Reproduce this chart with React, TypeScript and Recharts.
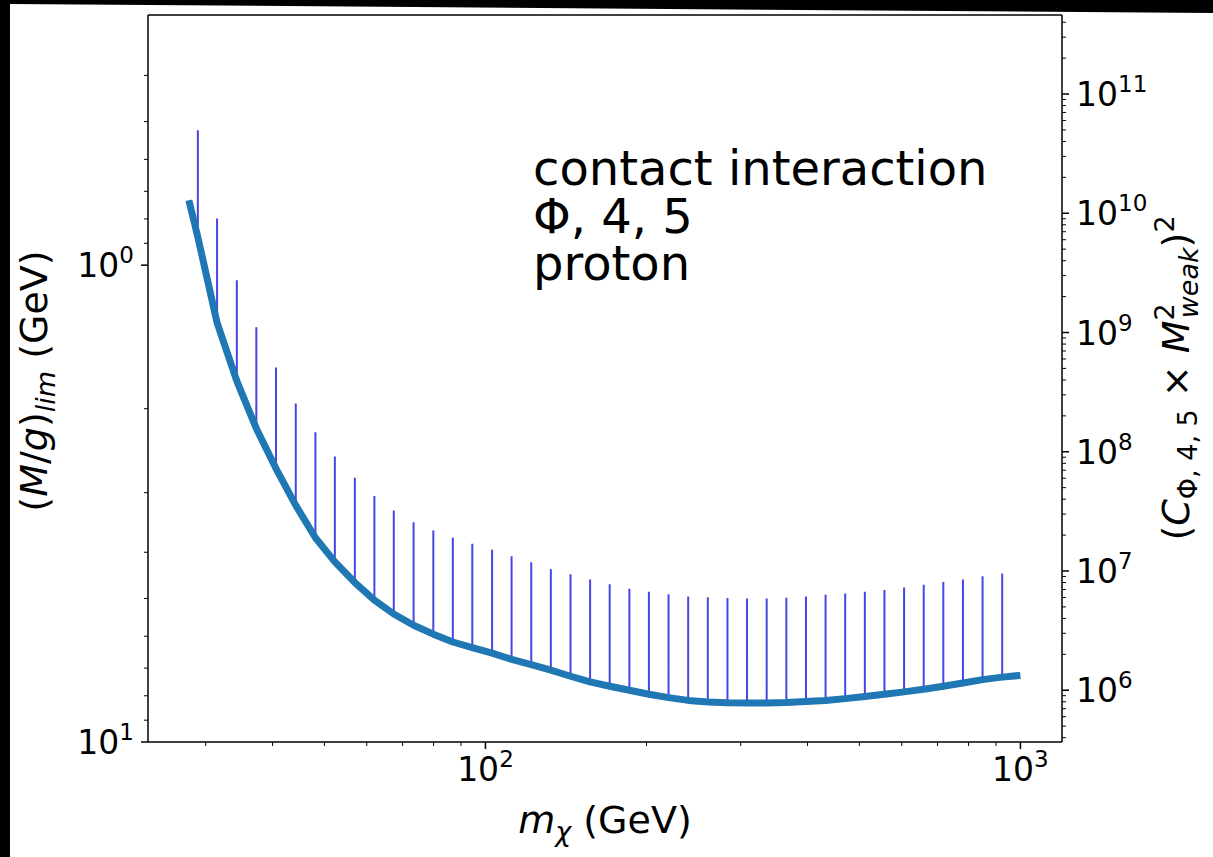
import React from "react";
import { ComposedChart, Line, XAxis, YAxis, ReferenceLine } from "recharts";

// m_chi (GeV) of each thin vertical bar
const masses = [
  29.0, 31.5, 34.3, 37.3, 40.6, 44.2, 48.1, 52.3, 57.0, 62.0, 67.4, 73.4, 79.9, 86.9,
  94.5, 102.9, 111.9, 121.8, 132.5, 144.2, 156.9, 170.7, 185.8, 202.1, 219.9, 239.3,
  260.4, 283.4, 308.3, 335.5, 365.1, 397.3, 432.3, 470.4, 511.9, 557.0, 606.1, 659.5,
  717.6, 780.9, 849.7, 924.6,
];
// (M/g)_lim on the thick curve at those masses
const limitCurve = [
  0.874, 1.32, 1.75, 2.2, 2.67, 3.19, 3.73, 4.19, 4.63, 5.04, 5.39, 5.69, 5.94, 6.17,
  6.34, 6.51, 6.71, 6.88, 7.07, 7.28, 7.48, 7.64, 7.79, 7.94, 8.07, 8.18, 8.24, 8.27,
  8.28, 8.28, 8.26, 8.22, 8.18, 8.11, 8.03, 7.94, 7.85, 7.75, 7.64, 7.52, 7.4, 7.31,
];
// upper end of each vertical bar
const barTops = [
  0.521, 0.798, 1.075, 1.35, 1.64, 1.95, 2.24, 2.52, 2.79, 3.05, 3.27, 3.46, 3.6, 3.73,
  3.84, 3.95, 4.08, 4.2, 4.34, 4.45, 4.56, 4.67, 4.77, 4.84, 4.9, 4.95, 4.97, 4.99,
  5.0, 5.0, 4.98, 4.95, 4.91, 4.88, 4.84, 4.8, 4.74, 4.68, 4.62, 4.56, 4.49, 4.43,
];
// ends of the curve beyond the bars: [mass, limit]
const curveStart = [27.9, 0.731];
const curveEnd = [1000, 7.25];

const xTicks = [30, 40, 50, 60, 70, 80, 90, 100, 200, 300, 400, 500, 600, 700, 800, 900, 1000];
const leftTicks = [0.4, 0.5, 0.6, 0.7, 0.8, 0.9, 1, 2, 3, 4, 5, 6, 7, 8, 9, 10];
const rightTicks = [
  4e5, 5e5, 6e5, 7e5, 8e5, 9e5, 1e6, 2e6, 3e6, 4e6, 5e6, 6e6, 7e6, 8e6, 9e6,
  1e7, 2e7, 3e7, 4e7, 5e7, 6e7, 7e7, 8e7, 9e7, 1e8, 2e8, 3e8, 4e8, 5e8, 6e8, 7e8, 8e8, 9e8,
  1e9, 2e9, 3e9, 4e9, 5e9, 6e9, 7e9, 8e9, 9e9, 1e10, 2e10, 3e10, 4e10, 5e10, 6e10, 7e10,
  8e10, 9e10, 1e11, 2e11, 3e11, 4e11,
];

const FONT = "DejaVu Sans";
const PLOT = { left: 148, right: 1062, top: 15, bottom: 742 };
const TICK_FS = 33;
const SUP_FS = 23;

const curveData = [
  { m: curveStart[0], v: curveStart[1] },
  ...masses.map((m, i) => ({ m, v: limitCurve[i] })),
  { m: curveEnd[0], v: curveEnd[1] },
];
const barData = masses.flatMap((m, i) => [
  { m, v: limitCurve[i] },
  { m, v: barTops[i] },
  { m, v: null },
]);

const isMajor = (v: number) => Math.abs(Math.log10(v) - Math.round(Math.log10(v))) < 1e-9;
const exp = (v: number) => Math.round(Math.log10(v));

const xTick = (props: any) => {
  const { x, payload } = props;
  const v = payload.value;
  const major = isMajor(v);
  return (
    <g>
      <line x1={x} x2={x} y1={PLOT.bottom} y2={PLOT.bottom + (major ? 7 : 4)} stroke="#000" strokeWidth={major ? 1.5 : 1} />
      {major && (
        <text x={x} y={PLOT.bottom + 39} textAnchor="middle" fontSize={TICK_FS} fontFamily={FONT} fill="#000">
          10<tspan dy={-14} fontSize={SUP_FS}>{exp(v)}</tspan>
        </text>
      )}
    </g>
  );
};

const leftTick = (props: any) => {
  const { y, payload } = props;
  const v = payload.value;
  const major = isMajor(v);
  return (
    <g>
      <line x1={PLOT.left - (major ? 7 : 4)} x2={PLOT.left} y1={y} y2={y} stroke="#000" strokeWidth={major ? 1.5 : 1} />
      {major && (
        <text x={134} y={y + 12} textAnchor="end" fontSize={TICK_FS} fontFamily={FONT} fill="#000">
          10<tspan dy={-14} fontSize={SUP_FS}>{exp(v)}</tspan>
        </text>
      )}
    </g>
  );
};

const rightTick = (props: any) => {
  const { y, payload } = props;
  const v = payload.value;
  const major = isMajor(v);
  return (
    <g>
      <line x1={PLOT.right} x2={PLOT.right + (major ? 7 : 4)} y1={y} y2={y} stroke="#000" strokeWidth={major ? 1.5 : 1} />
      {major && (
        <text x={1076} y={y + 12} textAnchor="start" fontSize={TICK_FS} fontFamily={FONT} fill="#000">
          10<tspan dy={-14} fontSize={SUP_FS}>{exp(v)}</tspan>
        </text>
      )}
    </g>
  );
};

const xLabel = () => (
  <text x={605} y={833} textAnchor="middle" fontSize={38} fontFamily={FONT} fill="#000">
    <tspan fontStyle="italic">m</tspan>
    <tspan fontStyle="italic" fontSize={27} dy={8}>χ</tspan>
    <tspan dy={-8}> (GeV)</tspan>
  </text>
);

const leftLabel = () => (
  <text transform="translate(47, 381) rotate(-90)" textAnchor="middle" fontSize={38} fontFamily={FONT} fill="#000">
    (<tspan fontStyle="italic">M</tspan>/<tspan fontStyle="italic">g</tspan>)
    <tspan fontStyle="italic" fontSize={27} dy={8}>lim</tspan>
    <tspan dy={-8}> (GeV)</tspan>
  </text>
);

const rightLabel = () => (
  <text transform="translate(1189, 378) rotate(-90)" textAnchor="middle" fontSize={38} fontFamily={FONT} fill="#000">
    (<tspan fontStyle="italic">C</tspan>
    <tspan fontSize={27} dy={8}>Φ, 4, 5</tspan>
    <tspan dy={-8}> × </tspan>
    <tspan fontStyle="italic">M</tspan>
    <tspan fontSize={27} dy={-15}>2</tspan>
    <tspan fontStyle="italic" fontSize={27} dx={-15} dy={24}>weak</tspan>
    <tspan dy={-9}>)</tspan>
    <tspan fontSize={27} dy={-15}>2</tspan>
  </text>
);

export default function App() {
  return (
    <div style={{ position: "fixed", left: 0, top: 0, width: 1213, height: 857, background: "#000" }}>
      <div
        style={{
          position: "absolute",
          inset: 0,
          background: "#fff",
          clipPath: "polygon(10px 4px, 1213px 13px, 1213px 857px, 10px 857px)",
        }}
      />
      <div style={{ position: "absolute", left: 0, top: 0 }}>
        <ComposedChart width={1213} height={857} margin={{ top: 15, right: 71, bottom: 55, left: 68 }}>
          <XAxis
            dataKey="m"
            type="number"
            scale="log"
            domain={[23.4, 1196]}
            allowDataOverflow
            ticks={xTicks}
            interval={0}
            tick={xTick}
            tickLine={false}
            axisLine={{ stroke: "#000", strokeWidth: 1.5 }}
            height={60}
            label={xLabel}
          />
          <YAxis
            yAxisId="left"
            type="number"
            scale="log"
            domain={[0.2988, 10]}
            reversed
            allowDataOverflow
            ticks={leftTicks}
            interval={0}
            tick={leftTick}
            tickLine={false}
            axisLine={{ stroke: "#000", strokeWidth: 1.5 }}
            width={80}
            label={leftLabel}
          />
          <YAxis
            yAxisId="right"
            orientation="right"
            type="number"
            scale="log"
            domain={[3.68e5, 4.6e11]}
            allowDataOverflow
            ticks={rightTicks}
            interval={0}
            tick={rightTick}
            tickLine={false}
            axisLine={{ stroke: "#000", strokeWidth: 1.5 }}
            width={80}
            label={rightLabel}
          />
          <ReferenceLine yAxisId="left" y={0.2988} stroke="#000" strokeWidth={1.5} />
          <Line
            yAxisId="left"
            data={barData}
            dataKey="v"
            stroke="#4646e6"
            strokeWidth={2}
            dot={false}
            activeDot={false}
            connectNulls={false}
            isAnimationActive={false}
          />
          <Line
            yAxisId="left"
            data={curveData}
            dataKey="v"
            stroke="#1f77b4"
            strokeWidth={7}
            strokeLinejoin="round"
            dot={false}
            activeDot={false}
            isAnimationActive={false}
          />
        </ComposedChart>
      </div>
      <svg width={1213} height={857} style={{ position: "absolute", left: 0, top: 0, pointerEvents: "none" }}>
        <text fontSize={48} fontFamily={FONT} fill="#000">
          <tspan x={533} y={185}>contact interaction</tspan>
          <tspan x={533} y={233}>Φ, 4, 5</tspan>
          <tspan x={533} y={280}>proton</tspan>
        </text>
      </svg>
    </div>
  );
}
